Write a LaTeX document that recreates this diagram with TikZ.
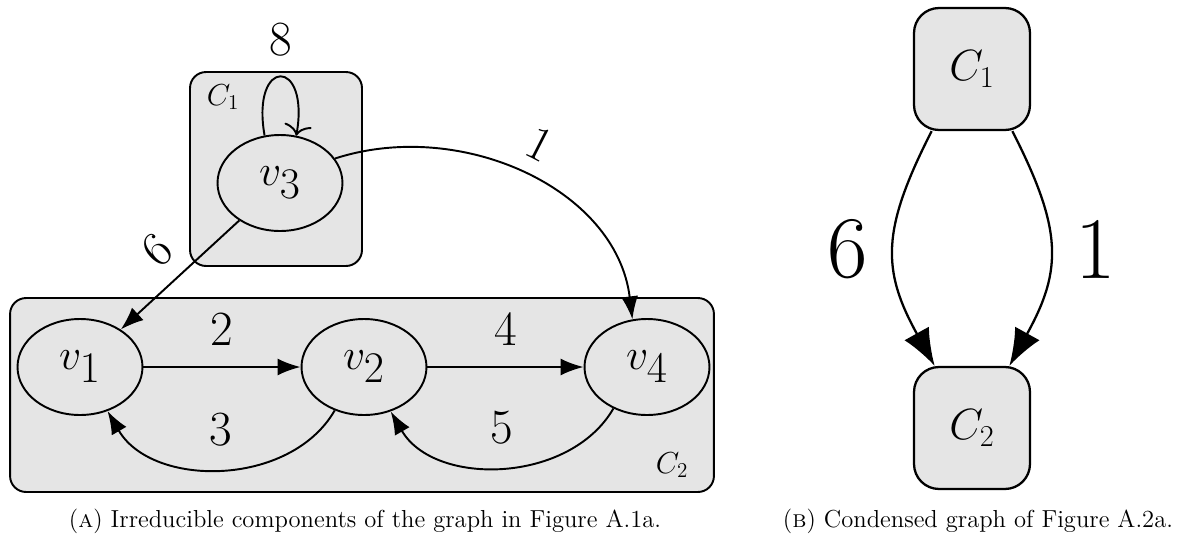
\documentclass[tikz,border=0pt]{standalone}
\usetikzlibrary{arrows.meta,shapes.geometric}
\definecolor{boxgray}{RGB}{229,229,229}
\DeclareMathSizes{33}{33}{25}{18}
\DeclareMathSizes{16}{16}{13}{10}
\DeclareMathSizes{23}{23}{19}{14}
\begin{document}
\begin{tikzpicture}[x=0.02cm,y=-0.02cm,
  container/.style={draw, line width=1.1pt, fill=boxgray, rounded corners=0.32cm, inner sep=0pt},
  vert/.style={draw, ellipse, line width=1.1pt, fill=boxgray, minimum width=2.5cm, minimum height=1.92cm, inner sep=0pt, font=\fontsize{33}{36}\selectfont},
  lbl/.style={inner sep=0pt, font=\fontsize{28}{30}\selectfont},
  arr/.style={line width=1.1pt, -{Latex[length=0.46cm, width=0.34cm]}},
  clab/.style={inner sep=0pt, font=\fontsize{16}{18}\selectfont},
  cnode/.style={draw, line width=1.3pt, fill=boxgray, rounded corners=0.5cm, minimum width=2.32cm, minimum height=2.44cm, inner sep=0pt, font=\fontsize{23}{25}\selectfont},
  bigarr/.style={line width=1.3pt, -{Latex[length=0.74cm, width=0.56cm]}},
  biglbl/.style={inner sep=0pt, font=\fontsize{50}{52}\selectfont},
  captext/.style={inner sep=0pt, font=\fontsize{14}{16}\selectfont}
]
\useasboundingbox (0,0) rectangle (1180,538);
% containers
\node[container, minimum width=3.44cm, minimum height=3.88cm] (box1) at (276,169) {};
\node[container, minimum width=14.08cm, minimum height=3.88cm] (box2) at (362,395) {};
\node[clab] (c1lab) at (223,97) {$C_1$};
\node[clab] (c2lab) at (672,465) {$C_2$};
% vertices
\node[vert] (v3) at (280,183) {$v_3$};
\node[vert] (v1) at (80,367) {$v_1$};
\node[vert] (v2) at (364,367) {$v_2$};
\node[vert] (v4) at (647,367) {$v_4$};
% edges
\draw[line width=1.1pt, -{To[width=0.55cm, length=0.22cm]}] (v3.108) .. controls +(100:1.6cm) and +(80:1.6cm) .. node[lbl, pos=0.5, above=0.38cm] (l8) {8} (v3.71);
\draw[arr] (v1) -- node[lbl, midway, above=0.42cm] (l2) {2} (v2);
\draw[arr] (v2) -- node[lbl, midway, above=0.42cm] (l4) {4} (v4);
\draw[arr] (v2.236) to[out=240, in=300] node[lbl, midway, above=0.42cm] (l3) {3} (v1.302);
\draw[arr] (v4.231) to[out=240, in=300] node[lbl, midway, above=0.42cm] (l5) {5} (v2.301);
\draw[arr] (v3) -- node[lbl, midway, sloped, above=0.32cm] (l6) {6} (v1);
\draw[arr] (v3.24) to[out=18, in=97] node[lbl, pos=0.5, sloped, above=0.34cm] (l1) {1} (v4.107);
% right graph
\node[cnode] (C1) at (972,69) {$C_1$};
\node[cnode] (C2) at (972,428) {$C_2$};
\draw[bigarr] (C1.237) to[out=243, in=119, looseness=1.2] node[biglbl, pos=0.5, left=0.5cm] (r6) {6} (C2.121);
\draw[bigarr] (C1.303) to[out=-63, in=61, looseness=1.2] node[biglbl, pos=0.5, right=0.5cm] (r1) {1} (C2.59);
% captions
\node[captext] (capa) at (365,521) {(\textsc{a}) Irreducible components of the graph in Figure A.1a.};
\node[captext] (capb) at (978,521) {(\textsc{b}) Condensed graph of Figure A.2a.};
\end{tikzpicture}
\end{document}
